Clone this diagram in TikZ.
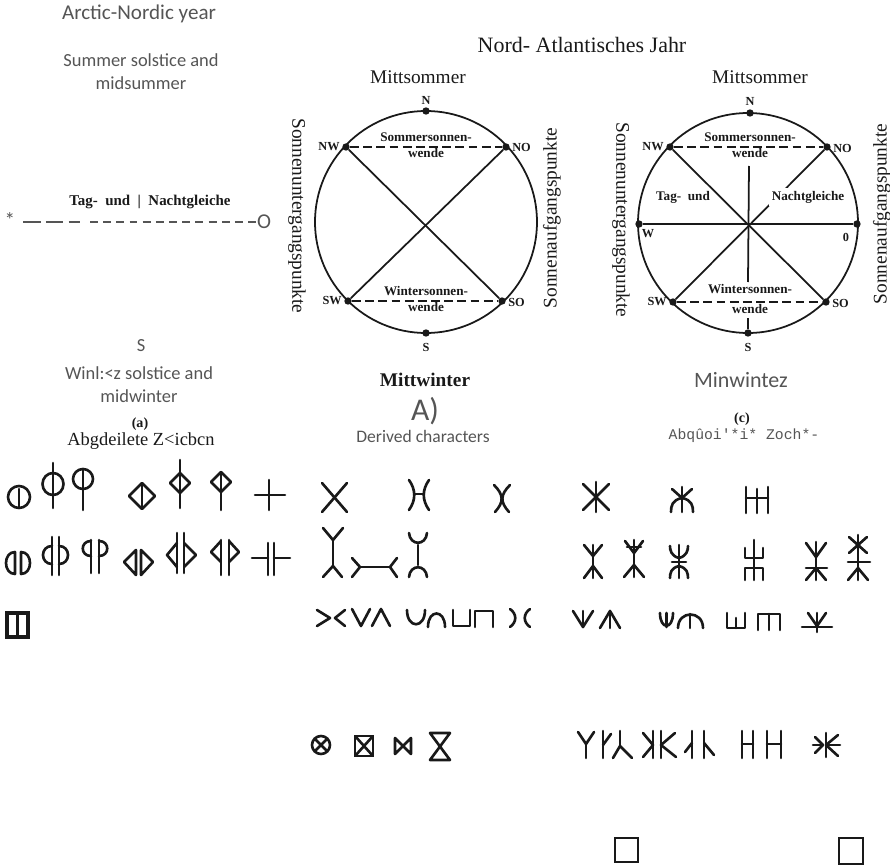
\documentclass[tikz,border=0pt]{standalone}
\usepackage{fontspec}
\setmainfont{Liberation Serif}
\newfontfamily\carlito{Carlito}
\newfontfamily\courier{Liberation Mono}
\usepackage{tikz}
\definecolor{grisTexte}{RGB}{85,85,85}
\definecolor{noirScan}{RGB}{25,25,25}

\begin{document}
\begin{tikzpicture}[x=0.02cm, y=-0.02cm,
  legende/.style={font=\carlito\fontsize{10.5}{13}\selectfont, text=grisTexte, align=center, inner sep=0pt},
  scan/.style={text=noirScan, inner sep=0pt, align=center},
  point/.style={circle, fill=noirScan, inner sep=0pt, minimum size=4.2pt},
  ptlab/.style={scan, font=\fontsize{7}{8}\selectfont\bfseries},
  wendelab/.style={scan, font=\fontsize{7.5}{9}\selectfont\bfseries},
  seite/.style={scan, font=\fontsize{11}{12}\selectfont},
  trait/.style={noirScan, line width=1pt},
  pointille/.style={noirScan, line width=0.9pt, dash pattern=on 5pt off 2.5pt},
  glyphe/.style={noirScan, line width=1.5pt, line cap=round, line join=round}]

\useasboundingbox (0,0) rectangle (890,865);

% Colonne de gauche
\node[legende, font=\carlito\fontsize{12}{14}\selectfont] (titreArct) at (139,14) {Arctic-Nordic year};
\node[legende] (ete) at (141,72) {Summer solstice and\\midsummer};
\node[scan, font=\fontsize{8.5}{10}\selectfont\bfseries] (tagnacht) at (150,202) {Tag- \ und \ | \ Nachtgleiche};
\node[legende, font=\carlito\fontsize{12}{14}\selectfont] (stern) at (10,220) {*};
\node[legende, font=\carlito\fontsize{12}{14}\selectfont] (ohne) at (264,222) {O};
\coordinate (tiretA) at (23,222);
\coordinate (tiretB) at (80,222);
\coordinate (tiretC) at (90,222);
\draw[grisTexte, line width=0.7pt, dash pattern=on 10pt off 3pt] (tiretA) -- (tiretB);
\draw[grisTexte, line width=0.7pt, dash pattern=on 4.5pt off 3pt] (tiretC) -- (ohne.west);
\node[legende] (sued) at (141,346) {S};
\node[legende] (hiver) at (139,385) {Winl:<z solstice and\\midwinter};
\node[scan, font=\fontsize{8}{9}\selectfont\bfseries] (lettreA) at (140,424) {(a)};
\node[scan, font=\fontsize{10.5}{12}\selectfont] (abgd) at (141,441) {Abgdeilete Z<icbcn};

% Titre
\node[scan, font=\fontsize{12.5}{14}\selectfont] (titreNA) at (582,45) {Nord- Atlantisches Jahr};

% Cercle gauche
\draw[trait] (426,222) circle [radius=111];
\node[point] (gN) at (426,111) {};
\node[point] (gNW) at (346,147) {};
\node[point] (gNO) at (506,147) {};
\node[point] (gSW) at (348,301) {};
\node[point] (gSO) at (502,301) {};
\node[point] (gS) at (426,333) {};
\draw[pointille] (gNW) -- (gNO);
\draw[pointille] (gSW) -- (gSO);
\draw[trait] (gNW) -- (gSO);
\draw[trait] (gNO) -- (gSW);
\node[scan, font=\fontsize{11}{12}\selectfont] (gMittS) at (418,77) {Mittsommer};
\node[ptlab] (gNlab) at (426,100) {N};
\node[ptlab, anchor=east] (gNWlab) at (340,147) {NW};
\node[ptlab, anchor=west] (gNOlab) at (512,147) {NO};
\node[ptlab, anchor=east] (gSWlab) at (342,301) {SW};
\node[ptlab, anchor=west] (gSOlab) at (508,302) {SO};
\node[ptlab] (gSlab) at (426,347) {S};
\node[wendelab] (gSommer) at (426,145) {Sommersonnen-\\wende};
\node[wendelab] (gWinter) at (426,299) {Wintersonnen-\\wende};
\node[seite, rotate=-90] (gUnter) at (297,216) {Sonnenuntergangspunkte};
\node[seite, rotate=90] (gAuf) at (552,218) {Sonnenaufgangspunkte};
\node[scan, font=\fontsize{11}{12}\selectfont\bfseries] (gMittW) at (425,380) {Mittwinter};
\node[legende, font=\carlito\fontsize{18}{20}\selectfont] (lettreB) at (425,411) {A)};
\node[legende, font=\carlito\fontsize{10}{12}\selectfont] (derive) at (423,436) {Derived characters};

% Cercle droit
\draw[trait] (748,223) circle [radius=110];
\node[point] (dN) at (750,113) {};
\node[point] (dNW) at (670,147) {};
\node[point] (dNO) at (827,147) {};
\node[point] (dW) at (639,224) {};
\node[point] (dO) at (857,224) {};
\node[point] (dSW) at (673,302) {};
\node[point] (dSO) at (826,302) {};
\node[point] (dS) at (748,333) {};
\coordinate (dHaut) at (749,166);
\coordinate (dMilieu) at (748,282);
\coordinate (dBas) at (748,318);
\draw[pointille] (dNW) -- (dNO);
\draw[pointille] (dSW) -- (dSO);
\draw[trait] (dNW) -- (dSO);
\draw[trait] (dNO) -- (dSW);
\draw[trait] (dW) -- (dO);
\draw[trait] (dHaut) -- (dMilieu);
\draw[trait] (dBas) -- (dS);
\node[scan, font=\fontsize{11}{12}\selectfont] (dMittS) at (760,77) {Mittsommer};
\node[ptlab] (dNlab) at (750,101) {N};
\node[ptlab, anchor=east] (dNWlab) at (664,147) {NW};
\node[ptlab, anchor=west] (dNOlab) at (833,148) {NO};
\node[ptlab] (dWlab) at (648,234) {W};
\node[ptlab] (dOlab) at (846,237) {0};
\node[ptlab, anchor=east] (dSWlab) at (667,302) {SW};
\node[ptlab, anchor=west] (dSOlab) at (832,303) {SO};
\node[ptlab] (dSlab) at (748,347) {S};
\node[wendelab] (dSommer) at (750,145) {Sommersonnen-\\wende};
\node[wendelab, fill=white, inner sep=1pt] (dWinterA) at (750,289) {Wintersonnen-};
\node[wendelab] (dWinterB) at (750,309) {wende};
\node[wendelab] (dTag) at (683,197) {Tag- \ und};
\node[wendelab, fill=white, inner sep=1.5pt] (dNacht) at (808,197) {Nachtgleiche};
\node[seite, rotate=-90] (dUnter) at (621,220) {Sonnenuntergangspunkte};
\node[seite, rotate=90] (dAuf) at (882,214) {Sonnenaufgangspunkte};
\node[legende, font=\carlito\fontsize{12.5}{14}\selectfont] (dMittW) at (741,380) {Minwintez};
\node[scan, font=\fontsize{8}{9}\selectfont\bfseries] (lettreC) at (742,419) {(c)};
\node[legende, font=\courier\fontsize{8.4}{10}\selectfont] (abqu) at (744,436) {Abqûoi\textquotesingle*i* Zoch*-};

% Signes, ligne 1
\draw[glyphe] (19,497) circle [radius=11];
\draw[glyphe] (19,489) -- (19,507);
\draw[glyphe] (53,484) circle [x radius=10.5, y radius=11];
\draw[glyphe] (53,463) -- (53,508);
\draw[glyphe] (83,479) circle [radius=10];
\draw[glyphe] (83,469) -- (83,510);
\draw[glyphe] (129,496) -- (142,483) -- (155,496) -- (142,509) -- cycle;
\draw[glyphe] (142,485) -- (142,507);
\draw[glyphe] (170,483) -- (180,473) -- (190,483) -- (180,493) -- cycle;
\draw[glyphe] (180,460) -- (180,508);
\draw[glyphe] (211,482) -- (221,472) -- (231,482) -- (221,492) -- cycle;
\draw[glyphe] (221,472) -- (221,510);
\draw[glyphe] (255,495) -- (285,495);
\draw[glyphe] (269,480) -- (269,510);
\draw[glyphe] (322,483) -- (347,512);
\draw[glyphe] (347,483) -- (322,512);
\draw[glyphe] (409,480) .. controls (416,490) and (416,500) .. (409,510);
\draw[glyphe] (429,480) .. controls (422,490) and (422,500) .. (429,510);
\draw[glyphe] (414,494) -- (424,494);
\draw[glyphe] (494,485) .. controls (504,495) and (504,502) .. (495,512);
\draw[glyphe] (510,485) .. controls (500,495) and (500,502) .. (509,512);
\draw[glyphe] (596,482) -- (596,512);
\draw[glyphe] (583,484) -- (609,510);
\draw[glyphe] (609,484) -- (583,510);
\draw[glyphe] (682,487) -- (682,512);
\draw[glyphe] (672,489) -- (682,498) -- (692,489);
\draw[glyphe] (682,498) .. controls (672,500) and (671,506) .. (671,512);
\draw[glyphe] (682,498) .. controls (692,500) and (693,506) .. (693,512);
\draw[glyphe] (746,487) -- (746,513);
\draw[glyphe] (757,489) -- (757,513);
\draw[glyphe] (768,487) -- (768,513);
\draw[glyphe] (746,498) -- (768,498);

% Signes, ligne 2
\draw[glyphe] (15,552) .. controls (3,552) and (3,574) .. (15,574) -- cycle;
\draw[glyphe] (21,552) .. controls (33,552) and (33,574) .. (21,574) -- cycle;
\draw[glyphe] (52,537) -- (52,575);
\draw[glyphe] (52,546) .. controls (40,546) and (40,564) .. (52,564);
\draw[glyphe] (59,537) -- (59,575);
\draw[glyphe] (59,546) .. controls (71,546) and (71,564) .. (59,564);
\draw[glyphe] (91,540) -- (91,573);
\draw[glyphe] (91,541) .. controls (80,541) and (80,556) .. (91,556);
\draw[glyphe] (99,540) -- (99,573);
\draw[glyphe] (99,541) .. controls (110,541) and (110,556) .. (99,556);
\draw[glyphe] (136,550) -- (124,562) -- (136,575) -- cycle;
\draw[glyphe] (141,550) -- (153,562) -- (141,575) -- cycle;
\draw[glyphe] (177,533) -- (177,573);
\draw[glyphe] (184,533) -- (184,573);
\draw[glyphe] (177,543) -- (167,555) -- (177,567);
\draw[glyphe] (184,543) -- (196,555) -- (184,567);
\draw[glyphe] (221,540) -- (221,575);
\draw[glyphe] (229,540) -- (229,575);
\draw[glyphe] (221,541) -- (211,552) -- (221,562);
\draw[glyphe] (229,541) -- (239,552) -- (229,562);
\draw[glyphe] (252,558) -- (268,558);
\draw[glyphe] (268,543) -- (268,575);
\draw[glyphe] (274,543) -- (274,575);
\draw[glyphe] (274,558) -- (290,558);
\draw[glyphe] (333,540) -- (333,566);
\draw[glyphe] (323,528) -- (333,540) -- (343,528);
\draw[glyphe] (323,577) -- (333,566) -- (342,577);
\draw[glyphe] (360,567) -- (390,567);
\draw[glyphe] (352,558) -- (360,567) -- (352,577);
\draw[glyphe] (397,558) -- (390,567) -- (397,577);
\draw[glyphe] (418,545) -- (418,565);
\draw[glyphe] (409,533) .. controls (410,546) and (426,546) .. (427,533);
\draw[glyphe] (409,577) .. controls (410,564) and (426,564) .. (427,577);
\draw[glyphe] (593,545) -- (593,578);
\draw[glyphe] (584,545) -- (593,556) -- (602,545);
\draw[glyphe] (584,578) -- (593,566) -- (602,578);
\draw[glyphe] (634,540) -- (634,577);
\draw[glyphe] (625,541) -- (634,553) -- (643,541);
\draw[glyphe] (627,547) -- (641,547);
\draw[glyphe] (624,577) -- (634,565) -- (644,577);
\draw[glyphe] (679,545) -- (679,578);
\draw[glyphe] (679,558) .. controls (671,556) and (670,550) .. (670,546);
\draw[glyphe] (679,558) .. controls (687,556) and (688,550) .. (688,546);
\draw[glyphe] (672,562) -- (686,562);
\draw[glyphe] (679,566) .. controls (671,568) and (670,573) .. (670,578);
\draw[glyphe] (679,566) .. controls (687,568) and (688,573) .. (688,578);
\draw[glyphe] (745,548) -- (745,558) -- (763,558) -- (763,548);
\draw[glyphe] (754,540) -- (754,580);
\draw[glyphe] (745,580) -- (745,568) -- (763,568) -- (763,580);
\draw[glyphe] (816,542) -- (816,580);
\draw[glyphe] (806,543) -- (816,557) -- (826,543);
\draw[glyphe] (806,568) -- (827,568);
\draw[glyphe] (806,580) -- (816,568) -- (826,580);
\draw[glyphe] (858,535) -- (858,580);
\draw[glyphe] (849,537) -- (867,553);
\draw[glyphe] (867,537) -- (849,553);
\draw[glyphe] (848,562) -- (870,562);
\draw[glyphe] (848,580) -- (858,568) -- (868,580);

% Signes, ligne 3
\draw[noirScan, line width=2.2pt] (7,613) rectangle (28,637);
\draw[noirScan, line width=2.2pt] (17.5,613) -- (17.5,637);
\draw[glyphe] (317,610) -- (330,618) -- (317,626);
\draw[glyphe] (345,610) -- (335,618) -- (345,626);
\draw[glyphe] (352,609) -- (361,626) -- (370,609);
\draw[glyphe] (372,626) -- (381,609) -- (390,626);
\draw[glyphe] (407,610) .. controls (407,629) and (425,629) .. (425,610);
\draw[glyphe] (428,627) .. controls (428,609) and (445,609) .. (445,627);
\draw[glyphe] (453,610) -- (453,626) -- (470,626) -- (470,610);
\draw[glyphe] (475,627) -- (475,611) -- (493,611) -- (493,627);
\draw[glyphe] (510,609) .. controls (517,614) and (517,622) .. (510,627);
\draw[glyphe] (530,609) .. controls (523,614) and (523,622) .. (530,627);
\draw[glyphe] (573,611) -- (583,627) -- (593,611);
\draw[glyphe] (583,611) -- (583,627);
\draw[glyphe] (600,628) -- (610,611) -- (620,628);
\draw[glyphe] (610,611) -- (610,628);
\draw[glyphe] (660,613) .. controls (660,630) and (673,630) .. (673,613);
\draw[glyphe] (666.5,613) -- (666.5,627);
\draw[glyphe] (678,628) .. controls (678,610) and (703,610) .. (703,628);
\draw[glyphe] (690,614) -- (690,628);
\draw[glyphe] (727,613) -- (727,628) -- (745,628) -- (745,613);
\draw[glyphe] (736,618) -- (736,628);
\draw[glyphe] (758,630) -- (758,614) -- (780,614) -- (780,630);
\draw[glyphe] (769,614) -- (769,630);
\draw[glyphe] (808,613) -- (817,626) -- (826,613);
\draw[glyphe] (817,613) -- (817,632);
\draw[glyphe] (802,627) -- (832,627);

% Signes, ligne 4
\draw[glyphe] (321,745) circle [radius=9];
\draw[glyphe] (315,739) -- (327,751);
\draw[glyphe] (327,739) -- (315,751);
\draw[glyphe] (355,736) rectangle (373,756);
\draw[glyphe] (355,736) -- (373,756);
\draw[glyphe] (373,736) -- (355,756);
\draw[glyphe] (395,738) -- (395,754) -- (411,738) -- (411,754) -- cycle;
\draw[glyphe] (430,733) -- (450,733) -- (430,760) -- (450,760) -- cycle;
\draw[glyphe] (578,732) -- (586,744) -- (594,732);
\draw[glyphe] (586,744) -- (586,758);
\draw[glyphe] (603,731) -- (603,758);
\draw[glyphe] (603,745) -- (611,734);
\draw[glyphe] (620,731) -- (620,746);
\draw[glyphe] (613,758) -- (620,746) -- (632,758);
\draw[glyphe] (653,731) -- (653,758);
\draw[glyphe] (643,733) -- (653,745) -- (643,757);
\draw[glyphe] (661,731) -- (661,758);
\draw[glyphe] (675,733) -- (661,745) -- (676,757);
\draw[glyphe] (692,731) -- (692,758);
\draw[glyphe] (692,743) -- (685,752);
\draw[glyphe] (704,731) -- (704,758);
\draw[glyphe] (704,743) -- (714,755);
\draw[glyphe] (742,731) -- (742,758);
\draw[glyphe] (753,731) -- (753,758);
\draw[glyphe] (742,744) -- (753,744);
\draw[glyphe] (767,731) -- (767,758);
\draw[glyphe] (781,731) -- (781,758);
\draw[glyphe] (767,744) -- (781,744);
\draw[glyphe] (826,733) -- (826,757);
\draw[glyphe] (838,735) -- (826,745) -- (838,756);
\draw[glyphe] (826,745) -- (840,745);
\draw[glyphe] (815,737) -- (823,745) -- (815,753);
\draw[glyphe] (813,745) -- (823,745);

% Cases vides
\draw[noirScan, line width=1.3pt] (615,838) rectangle (638,862);
\draw[noirScan, line width=1.3pt] (839,838) rectangle (863,864);

\end{tikzpicture}
\end{document}
